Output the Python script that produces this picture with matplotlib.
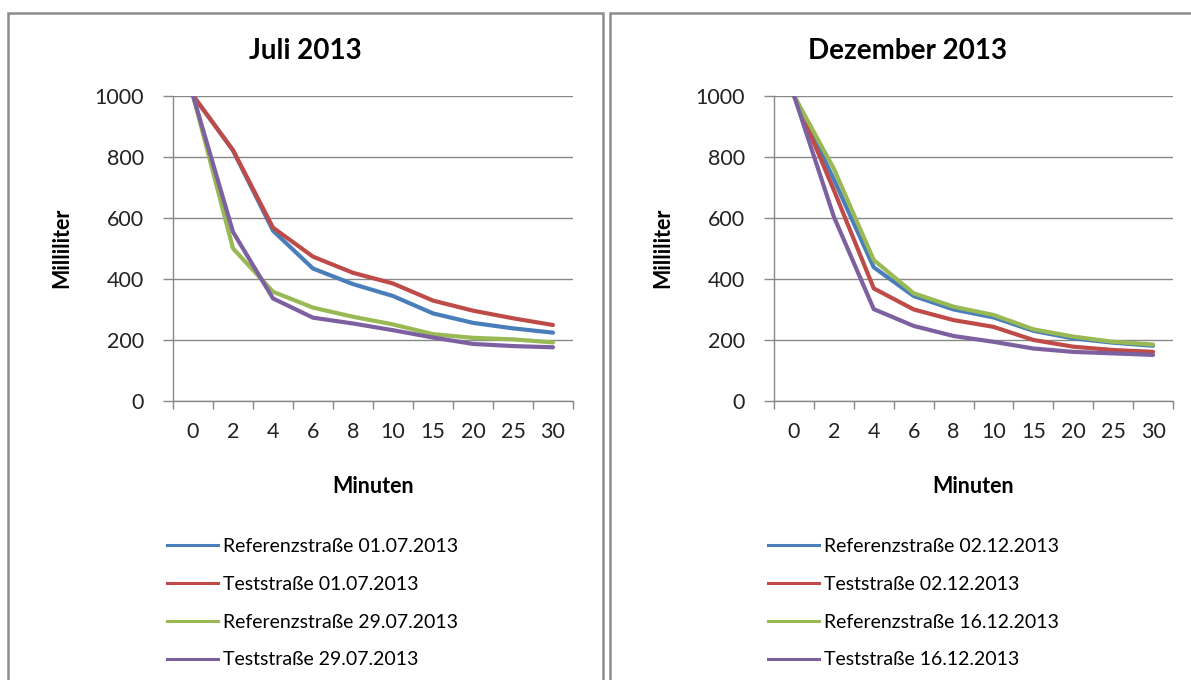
import numpy as np
import matplotlib.pyplot as plt
from matplotlib.lines import Line2D
from matplotlib.patches import Rectangle

minutes = ['0', '2', '4', '6', '8', '10', '15', '20', '25', '30']

# Juli 2013
ref_0107 = [1000, 820, 557, 433, 382, 343, 286, 255, 237, 223]
test_0107 = [1000, 821, 567, 472, 419, 384, 328, 295, 270, 248]
ref_2907 = [1000, 499, 357, 305, 275, 250, 218, 206, 201, 191]
test_2907 = [1000, 553, 335, 272, 253, 231, 207, 186, 179, 175]

# Dezember 2013
ref_0212 = [1000, 725, 437, 343, 299, 273, 229, 204, 190, 180]
test_0212 = [1000, 690, 368, 299, 264, 242, 199, 177, 166, 160]
ref_1612 = [1000, 760, 461, 352, 308, 281, 234, 210, 193, 184]
test_1612 = [1000, 603, 300, 245, 212, 193, 171, 160, 155, 150]

titles = ['Juli 2013', 'Dezember 2013']
labels_jul = ['Referenzstraße 01.07.2013', 'Teststraße 01.07.2013',
              'Referenzstraße 29.07.2013', 'Teststraße 29.07.2013']
labels_dez = ['Referenzstraße 02.12.2013', 'Teststraße 02.12.2013',
              'Referenzstraße 16.12.2013', 'Teststraße 16.12.2013']
colors = ['#4A7EBB', '#BE4B48', '#98B954', '#7D60A0']

W, H = 1191, 680
plt.rcParams['font.family'] = ['Lato', 'DejaVu Sans']
fig = plt.figure(figsize=(W / 100, H / 100), dpi=100)
fig.set_facecolor('w')

frame_col = '#8c8c8c'
fig.patches.append(Rectangle((8 / W, -0.05), 595 / W, 1.05 - 13 / H,
                             transform=fig.transFigure, fill=False,
                             edgecolor=frame_col, lw=1.8))
fig.patches.append(Rectangle((610 / W, -0.05), 600 / W, 1.05 - 13 / H,
                             transform=fig.transFigure, fill=False,
                             edgecolor=frame_col, lw=1.8))


def px(x0, y0, x1, y1):
    return [x0 / W, 1 - y1 / H, (x1 - x0) / W, (y1 - y0) / H]


panels = [
    (px(173, 95.5, 573, 400.7), [ref_0107, test_0107, ref_2907, test_2907], labels_jul, 305, 167),
    (px(774, 95.5, 1173, 400.7), [ref_0212, test_0212, ref_1612, test_1612], labels_dez, 907, 768),
]

grid_col = '#888888'
for (rect, series, labels, cx, lx), title in zip(panels, titles):
    ax = fig.add_axes(rect)
    x = np.arange(len(minutes))
    for s, c in zip(series, colors):
        ax.plot(x, s, color=c, lw=3, solid_capstyle='round', solid_joinstyle='round')
    ax.set_xlim(-0.5, len(minutes) - 0.5)
    ax.set_ylim(0, 1000)
    ax.set_yticks(range(0, 1001, 200))
    ax.yaxis.grid(True, color=grid_col, lw=1)
    ax.set_axisbelow(True)
    ax.set_xticks(x)
    ax.set_xticklabels(minutes)
    ax.set_xticks(np.arange(-0.5, len(minutes)), minor=True)
    ax.tick_params(axis='x', which='major', length=0, pad=15, labelsize=15.5, labelcolor='#222222')
    ax.tick_params(axis='x', which='minor', length=6, width=1, color=grid_col)
    ax.tick_params(axis='y', length=7, width=1, color=grid_col, pad=14, labelsize=15.5, labelcolor='#222222')
    for side in ['top', 'right']:
        ax.spines[side].set_visible(False)
    for side in ['left', 'bottom']:
        ax.spines[side].set_color(grid_col)
        ax.spines[side].set_linewidth(1)
    ax.set_ylabel('Milliliter', fontsize=15.5, fontweight='bold', labelpad=16)
    ax.set_xlabel('Minuten', fontsize=15.5, fontweight='bold', labelpad=25)

    fig.text(cx / W, 1 - 51 / H, title, ha='center', va='center',
             fontsize=20, fontweight='bold')

    handles = [Line2D([], [], color=c, lw=2.2) for c in colors]
    fig.legend(handles, labels, loc='upper left',
               bbox_to_anchor=(lx / W, 1 - 538 / H),
               frameon=False, fontsize=14, handlelength=2.6,
               handletextpad=0.3, labelspacing=1.07,
               borderpad=0, borderaxespad=0)

fig.savefig('out.png', dpi=100)
